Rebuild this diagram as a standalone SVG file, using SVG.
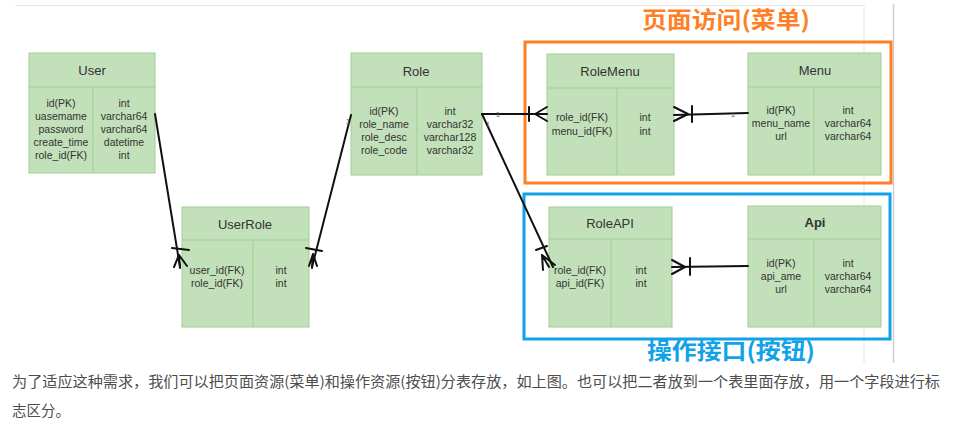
<svg xmlns="http://www.w3.org/2000/svg" width="967" height="435" viewBox="0 0 967 435">
<style>
.tb{fill:#c2e0b9;stroke:#9fcf92;stroke-width:1}
.dv{stroke:#9fcf92;stroke-width:1;fill:none}
.ti{font-family:"Liberation Sans",Arial,sans-serif;font-size:13px;fill:#333;text-anchor:middle}
.tx{font-family:"Liberation Sans",Arial,sans-serif;font-size:10.5px;fill:#333;text-anchor:middle}
.cn{stroke:#111;stroke-width:2;fill:none;stroke-linecap:round}
.lb{font-family:"Liberation Sans",Arial,sans-serif;font-size:8px;fill:#666;text-anchor:middle}
.cap{font-family:"Noto Sans CJK SC",sans-serif;font-size:23px;font-weight:bold}
.body{font-family:"Noto Sans CJK SC",sans-serif;font-size:14.5px;fill:#4d4d4d}
</style>
<rect width="967" height="435" fill="#fff"/>
<g id="frame">
<path d="M15 5.5H864V363" stroke="#e6e6e6" stroke-width="1" fill="none"/>
<path d="M893.5 4V363" stroke="#cfcfcf" stroke-width="1.5" fill="none"/>
</g>
<g id="menu-group">
<rect x="525" y="42" width="366" height="141" fill="none" stroke="#ff7f27" stroke-width="3"/>
<text class="cap" x="726" y="28" fill="#ff7f27" text-anchor="middle" textLength="168" lengthAdjust="spacingAndGlyphs">页面访问(菜单)</text>
</g>
<g id="api-group">
<rect x="524" y="194" width="366" height="145" fill="none" stroke="#12a2e8" stroke-width="3"/>
<text class="cap" x="731" y="359" fill="#12a2e8" text-anchor="middle" textLength="168" lengthAdjust="spacingAndGlyphs">操作接口(按钮)</text>
</g>
<g id="User">
<rect class="tb" x="29" y="53" width="126" height="120"/>
<path class="dv" d="M29 87H155M93 87V173"/>
<text class="ti" x="92" y="75">User</text>
<text class="tx" x="61" y="107">id(PK)</text>
<text class="tx" x="61" y="120">uasemame</text>
<text class="tx" x="61" y="133">password</text>
<text class="tx" x="61" y="146">create_time</text>
<text class="tx" x="61" y="159">role_id(FK)</text>
<text class="tx" x="124" y="107">int</text>
<text class="tx" x="124" y="120">varchar64</text>
<text class="tx" x="124" y="133">varchar64</text>
<text class="tx" x="124" y="146">datetime</text>
<text class="tx" x="124" y="159">int</text>
</g>
<g id="UserRole">
<rect class="tb" x="182" y="207" width="127" height="120"/>
<path class="dv" d="M182 240H309M253 240V327"/>
<text class="ti" x="245" y="229">UserRole</text>
<text class="tx" x="217" y="274">user_id(FK)</text>
<text class="tx" x="217" y="287">role_id(FK)</text>
<text class="tx" x="281" y="274">int</text>
<text class="tx" x="281" y="287">int</text>
</g>
<g id="Role">
<rect class="tb" x="351" y="53" width="131" height="122"/>
<path class="dv" d="M351 87H482M417 87V175"/>
<text class="ti" x="416" y="76">Role</text>
<text class="tx" x="384" y="115">id(PK)</text>
<text class="tx" x="384" y="128">role_name</text>
<text class="tx" x="384" y="141">role_desc</text>
<text class="tx" x="384" y="154">role_code</text>
<text class="tx" x="450" y="115">int</text>
<text class="tx" x="450" y="128">varchar32</text>
<text class="tx" x="450" y="141">varchar128</text>
<text class="tx" x="450" y="154">varchar32</text>
</g>
<g id="RoleMenu">
<rect class="tb" x="547" y="54" width="127" height="121"/>
<path class="dv" d="M547 88H674M617 88V175"/>
<text class="ti" x="610" y="76">RoleMenu</text>
<text class="tx" x="582" y="121">role_id(FK)</text>
<text class="tx" x="582" y="135">menu_id(FK)</text>
<text class="tx" x="645" y="121">int</text>
<text class="tx" x="645" y="135">int</text>
</g>
<g id="Menu">
<rect class="tb" x="748" y="53" width="133" height="122"/>
<path class="dv" d="M748 87H881M814 87V175"/>
<text class="ti" x="815" y="75">Menu</text>
<text class="tx" x="781" y="114">id(PK)</text>
<text class="tx" x="781" y="127">menu_name</text>
<text class="tx" x="781" y="140">url</text>
<text class="tx" x="848" y="114">int</text>
<text class="tx" x="848" y="127">varchar64</text>
<text class="tx" x="848" y="140">varchar64</text>
</g>
<g id="RoleAPI">
<rect class="tb" x="549" y="207" width="123" height="120"/>
<path class="dv" d="M549 239H672M611 239V327"/>
<text class="ti" x="610" y="228">RoleAPI</text>
<text class="tx" x="580" y="274">role_id(FK)</text>
<text class="tx" x="580" y="287">api_id(FK)</text>
<text class="tx" x="641" y="274">int</text>
<text class="tx" x="641" y="287">int</text>
</g>
<g id="Api">
<rect class="tb" x="748" y="206" width="133" height="121"/>
<path class="dv" d="M748 239H881M814 239V327"/>
<text class="ti" x="815" y="227" font-weight="bold">Api</text>
<text class="tx" x="781" y="267">id(PK)</text>
<text class="tx" x="781" y="280">api_ame</text>
<text class="tx" x="781" y="293">url</text>
<text class="tx" x="848" y="267">int</text>
<text class="tx" x="848" y="280">varchar64</text>
<text class="tx" x="848" y="293">varchar64</text>
</g>
<g id="connectors">
<path class="cn" d="M155 114L180 267"/>
<path class="cn" d="M172 248L189 250M179 255L174 267M179 255L180 268M179 255L187 266"/>
<path class="cn" d="M351 115L312 267"/>
<path class="cn" d="M306 248L322 251M313 254L309 266M313 254L312 268M313 254L317 266"/>
<path class="cn" d="M482 114H547"/>
<path class="cn" d="M529 107V121M535 114L547 107M535 114L547 121"/>
<path class="cn" d="M482 114L553 267"/>
<path class="cn" d="M536 250L547 246M542 255L543 270M542 255L549 267M542 255L555 265"/>
<path class="cn" d="M674 115L748 113"/>
<path class="cn" d="M692 106V122M688 114L674 107M688 114L674 121"/>
<path class="cn" d="M672 267L748 266"/>
<path class="cn" d="M690 258V275M685 267L672 260M685 267L672 274"/>
<text class="lb" x="498" y="117">1</text>
<text class="lb" x="348" y="124">1</text>
<text class="lb" x="488" y="127">1</text>
<text class="lb" x="733" y="117">1</text>
</g>
<g id="caption">
<text class="body" x="12" y="387" textLength="928" lengthAdjust="spacingAndGlyphs">为了适应这种需求，我们可以把页面资源(菜单)和操作资源(按钮)分表存放，如上图。也可以把二者放到一个表里面存放，用一个字段进行标</text>
<text class="body" x="12" y="416">志区分。</text>
</g>
</svg>
